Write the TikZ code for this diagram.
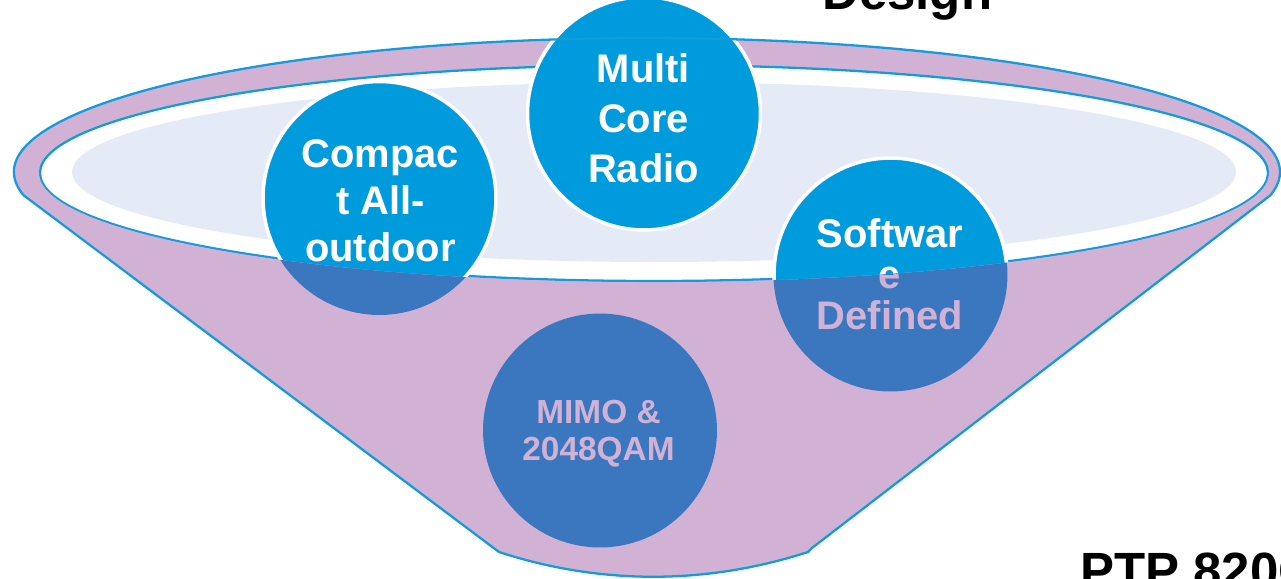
\documentclass[tikz,border=0pt]{standalone}
\usepackage{fontspec}
\setmainfont{Liberation Sans}
\usepackage{xcolor}
\definecolor{fpurple}{RGB}{209,178,213}
\definecolor{fline}{RGB}{20,155,218}
\definecolor{cblue}{RGB}{0,155,220}
\definecolor{cdark}{RGB}{59,119,191}
\definecolor{clight}{RGB}{228,235,246}
\newcommand{\funnelpath}{(495,-549) -- (23.6,-195.3)
  arc[start angle=190, end angle=-10, x radius=633, y radius=134]
  -- (812,-548) -- (808,-552) .. controls (706,-585) and (600,-585) .. (499,-552) -- cycle}

\begin{document}
\begin{tikzpicture}[x=0.02cm, y=0.02cm,
  ball/.style={circle, fill=cblue, draw=white, line width=2pt,
               minimum size=4.66cm, inner sep=0pt},
  balldark/.style={circle, fill=cdark, minimum size=4.68cm, inner sep=0pt},
  lbl/.style 2 args={text=white, align=center, inner sep=0pt,
               font=\fontsize{#1}{#2}\selectfont\bfseries},
  lbldark/.style 2 args={lbl={#1}{#2}, text=fpurple},
  rim/.style={draw=fline, line width=1.3pt},
  title/.style={anchor=base west, inner sep=0pt, font=\fontsize{29}{34}\selectfont\bfseries}
]
\useasboundingbox (0,0) rectangle (1281,-578);
% funnel, rim and bowl
\fill[fpurple] \funnelpath;
\filldraw[fill=white, rim] (654,-173) ellipse [x radius=614, y radius=108];
\fill[clight] (654,-172) ellipse [x radius=582, y radius=90];
% circles
\node[ball] (mcr) at (644,-113.5) {};
\node[ball] (cao) at (379.5,-198) {};
\node[ball] (swd) at (890.5,-274.5) {};
\node[lbl={22.7}{28.6}] (mcrT) at (643.5,-118.2) {Multi\\Core\\Radio};
\node[lbl={22.7}{26.6}] (caoT) at (380.5,-200.7) {Compac\\t All-\\outdoor};
\node[lbl={22.7}{23.5}] (swdT) at (890,-274.2) {Softwar\\e\\Defined};
% front of the funnel
\begin{scope}
\clip (39,-173) arc[start angle=180, end angle=360, x radius=615, y radius=109.3]
  -- (1280,-173) -- (1270.4,-195.3) -- (812,-548) -- (808,-552)
  .. controls (706,-585) and (600,-585) .. (499,-552) -- (495,-549)
  -- (23.6,-195.3) -- (14,-173) -- cycle;
\fill[fpurple] (0,0) rectangle (1281,-600);
\node[balldark] (cdao) at (379.5,-198) {};
\node[balldark] (cdswd) at (890.5,-274.5) {};
\node[balldark] (mimo) at (600,-430.5) {};
\node[lbldark={22.7}{26.6}] (cdaoT) at (380.5,-200.7) {Compac\\t All-\\outdoor};
\node[lbldark={22.7}{23.5}] (cdswdT) at (890,-274.2) {Softwar\\e\\Defined};
\node[lbldark={19}{21}] (mimoT) at (598.5,-433.5) {MIMO \&\\2048QAM};
\end{scope}
\draw[rim] \funnelpath;
\node[title] (design) at (822,-9.5) {Design};
\node[title] (ptp) at (1080,-588.4) {PTP 820C};
\end{tikzpicture}
\end{document}
